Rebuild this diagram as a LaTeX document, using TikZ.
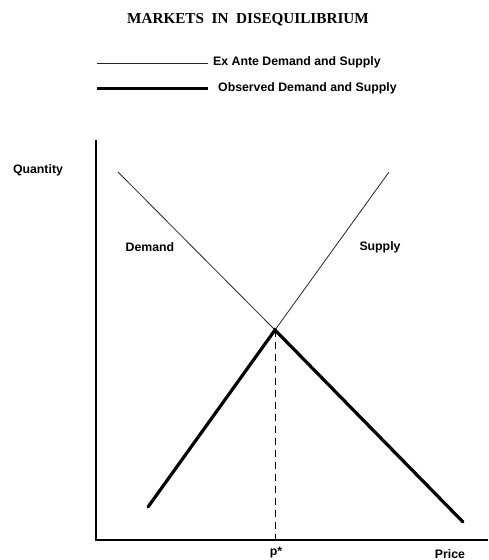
\documentclass[tikz,border=0pt]{standalone}
\usepackage{fontspec}
\setmainfont{Liberation Serif}
\setsansfont{Liberation Sans}
\begin{document}
\begin{tikzpicture}[x=1pt,y=-1pt,
  lbl/.style={font=\sffamily\bfseries\fontsize{12.3}{14}\selectfont, inner sep=0pt},
  thinline/.style={line width=0.8pt, black!85},
  thickline/.style={line width=3.2pt, line cap=round},
  axisline/.style={line width=1.1pt}]
\useasboundingbox (0,0) rectangle (489,560);
% title
\node[font=\bfseries\fontsize{15.2}{18}\selectfont, inner sep=0pt] (title) at (248,20) {MARKETS\ \ IN\ \ DISEQUILIBRIUM};
% legend
\coordinate (L1a) at (97,63); \coordinate (L1b) at (208,63);
\coordinate (L2a) at (97,88); \coordinate (L2b) at (208,88);
\draw[thinline] (L1a) -- (L1b);
\draw[line width=3pt] (L2a) -- (L2b);
\node[lbl, anchor=west] (leg1) at (213,62) {Ex Ante Demand and Supply};
\node[lbl, anchor=west] (leg2) at (218,88) {Observed Demand and Supply};
% axes
\coordinate (Ytop) at (96,140);
\coordinate (O) at (96,540);
\coordinate (Xend) at (488,540);
\draw[axisline] (Ytop) -- (O) -- (Xend);
\node[lbl] (qty) at (38,170) {Quantity};
\node[lbl] (price) at (450,554) {Price};
\node[lbl] (pstar) at (276,553) {p*};
% curves
\coordinate (D1) at (118,172);
\coordinate (E) at (275,330);
\coordinate (D2) at (463,522);
\coordinate (S1) at (389,172);
\coordinate (S2) at (148,507);
\coordinate (P) at (275,540);
\draw[thinline] (D1) -- (E);
\draw[thinline] (E) -- (S1);
\draw[thickline] (S2) -- (E) -- (D2);
\draw[line width=0.9pt, dash pattern=on 7pt off 5pt] (E) -- (P);
\node[lbl] (dem) at (150,247) {Demand};
\node[lbl] (sup) at (380,247) {Supply};
\end{tikzpicture}
\end{document}
